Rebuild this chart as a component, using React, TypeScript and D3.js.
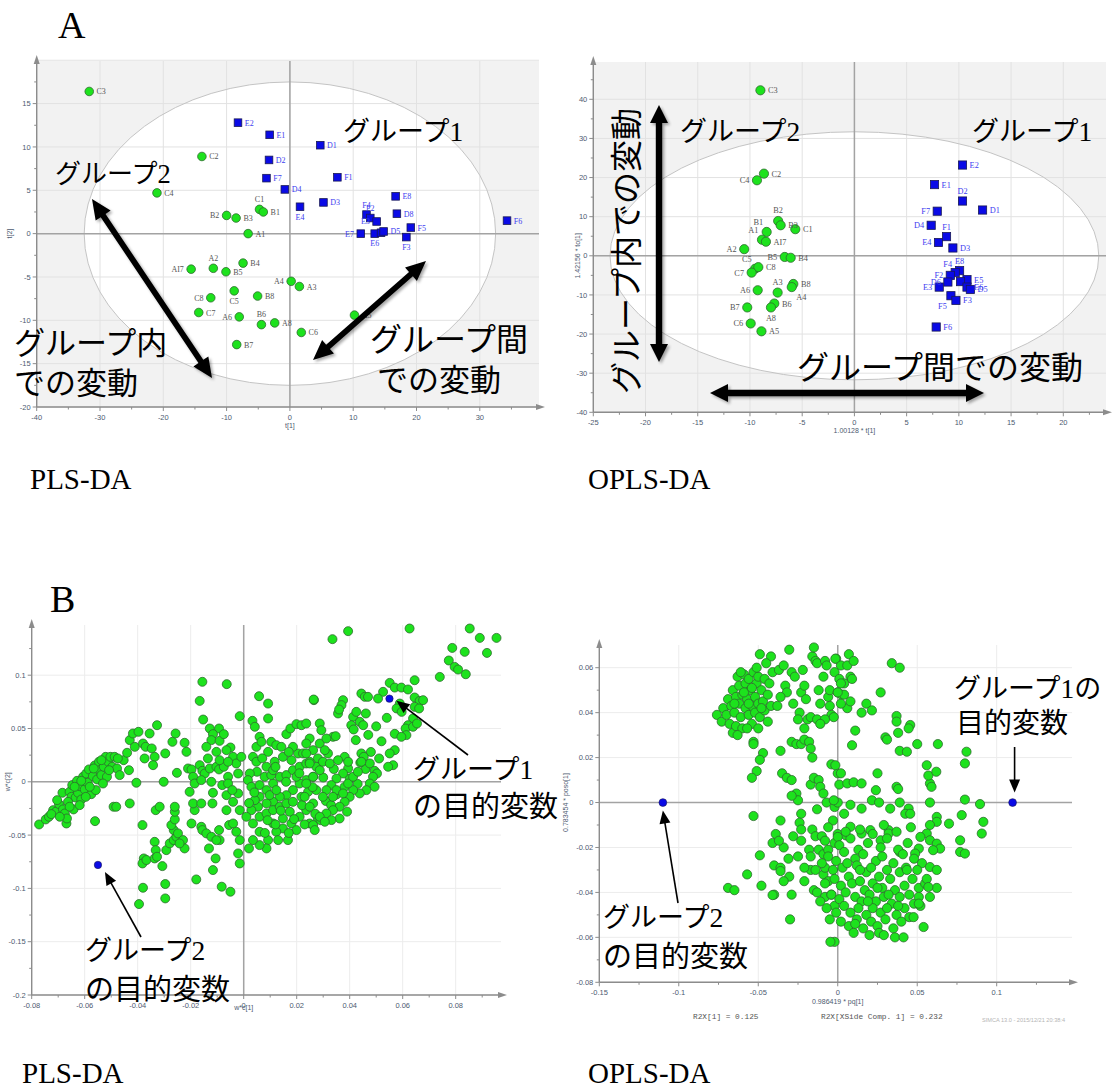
import React from "react";
import * as d3 from "d3";

type Scored = [string, number, number];
type Pt = [number, number];

// ---------- PLS-DA score plot, t[1] vs t[2] ----------
const plsScoresGroup2: Scored[] = [
  ["C3", -31.7, 16.4], ["C2", -13.9, 8.9], ["C4", -21.0, 4.7], ["C1", -4.8, 2.8],
  ["B1", -4.2, 2.5], ["B2", -10.0, 2.1], ["B3", -8.5, 1.8], ["A1", -6.6, 0.0],
  ["AI7", -15.6, -4.1], ["A2", -12.1, -4.0], ["B5", -10.1, -4.4], ["B4", -7.4, -3.4],
  ["A4", 0.2, -5.5], ["A3", 1.5, -6.1], ["C5", -8.8, -6.6], ["B8", -5.1, -7.2],
  ["C8", -12.5, -7.4], ["C7", -14.4, -9.1], ["A6", -8.0, -9.6], ["B6", -4.5, -10.5],
  ["A8", -2.4, -10.3], ["B7", -8.4, -12.8], ["C6", 1.8, -11.4], ["A5", 10.2, -9.4],
];
const plsScoresGroup1: Scored[] = [
  ["E2", -8.2, 12.8], ["E1", -3.2, 11.4], ["D2", -3.3, 8.5], ["F7", -3.7, 6.4],
  ["D4", -0.8, 5.1], ["E4", 1.6, 3.1], ["D1", 4.8, 10.2], ["F1", 7.5, 6.5],
  ["D3", 5.3, 3.6], ["E8", 16.7, 4.3], ["F4", 12.1, 2.2], ["F2", 12.7, 1.8],
  ["E3", 13.7, 1.4], ["D8", 16.9, 2.3], ["F5", 19.1, 0.7], ["E7", 11.2, 0.0],
  ["E6", 13.4, 0.0], ["D6", 14.4, 0.1], ["D5", 14.8, 0.25], ["F3", 18.4, -0.4], ["F6", 34.3, 1.5],
];
const plsLabelSide: Record<string, string> = {
  C3: "r", C2: "r", C4: "r", C1: "t", B1: "r", B2: "l", B3: "r", A1: "r", AI7: "l", A2: "t",
  B5: "r", B4: "r", A4: "l", A3: "r", C5: "b", B8: "r", C8: "l", C7: "r", A6: "l", B6: "t",
  A8: "r", B7: "r", C6: "r", A5: "r",
  E2: "r", E1: "r", D2: "r", F7: "r", D4: "r", E4: "b", D1: "r", F1: "r", D3: "r", E8: "r",
  F4: "t", F2: "t", E3: "l", D8: "r", F5: "r", E7: "l", E6: "b", D6: "n", D5: "r", F3: "b", F6: "r",
};
const plsEllipse = { rx: 32.5, ry: 17.5 };
const plsScoreTicksX = [-40, -30, -20, -10, 0, 10, 20, 30];
const plsScoreTicksY = [15, 10, 5, 0, -5, -10, -15, -20];

// ---------- OPLS-DA score plot, t[1] vs to[1] ----------
const oplsScoresGroup2: Scored[] = [
  ["C3", -9.0, 42.3], ["C2", -8.66, 21.0], ["C4", -9.33, 19.3], ["B2", -7.3, 8.9],
  ["B3", -7.06, 7.8], ["C1", -5.66, 6.8], ["B1", -8.4, 6.1], ["A1", -8.85, 4.1],
  ["AI7", -8.47, 3.6], ["A2", -10.55, 1.7], ["B5", -6.67, -0.3], ["B4", -6.1, -0.5],
  ["C5", -9.5, -3.3], ["C8", -9.2, -2.9], ["C7", -9.84, -4.3], ["A3", -7.35, -9.4],
  ["B8", -5.85, -7.2], ["A4", -6.0, -8.0], ["A6", -9.26, -8.8], ["B6", -7.67, -12.2],
  ["A8", -7.99, -13.2], ["B7", -10.26, -13.2], ["C6", -9.93, -17.3], ["A5", -8.9, -19.3],
];
const oplsScoresGroup1: Scored[] = [
  ["E2", 10.35, 23.2], ["E1", 7.67, 18.2], ["D2", 10.35, 14.0], ["D1", 12.27, 11.7],
  ["F7", 7.93, 11.4], ["D4", 7.35, 7.8], ["F1", 8.82, 4.9], ["E4", 8.05, 3.4],
  ["D3", 9.43, 2.0], ["E8", 10.07, -3.8], ["F4", 9.65, -4.3], ["E5", 10.78, -6.1],
  ["F2", 9.18, -5.0], ["D6", 8.95, -6.7], ["E3", 8.12, -8.0], ["E7", 10.16, -6.6],
  ["E6", 10.78, -8.0], ["D5", 11.1, -8.6], ["F5", 9.24, -10.2], ["F3", 9.72, -11.4],
  ["F6", 7.83, -18.2],
];
const oplsLabelSide: Record<string, string> = {
  C3: "r", C2: "r", C4: "l", B2: "t", B3: "r", C1: "r", B1: "tl", A1: "tl", AI7: "r", A2: "l",
  B5: "l", B4: "r", C5: "tl", C8: "r", C7: "l", A3: "t", B8: "r", A4: "br", A6: "l", B6: "r",
  A8: "b", B7: "l", C6: "l", A5: "r",
  E2: "r", E1: "r", D2: "t", D1: "r", F7: "l", D4: "l", F1: "t", E4: "l", D3: "r", E8: "t",
  F4: "tl", E5: "r", F2: "l", D6: "l", E3: "l", E7: "n", E6: "r", D5: "r", F5: "bl", F3: "r", F6: "r",
};
const oplsEllipse = { rx: 23.4, ry: 31.7 };
const oplsScoreTicksX = [-25, -20, -15, -10, -5, 0, 5, 10, 15, 20];
const oplsScoreTicksY = [40, 30, 20, 10, 0, -10, -20, -30, -40];

// ---------- PLS-DA loading plot, w*c[1] vs w*c[2] ----------
const plsLoadings: Pt[] = [
  [-0.0772, -0.04], [-0.0747, -0.0353], [-0.0735, -0.0328], [-0.0719, -0.0266], [-0.0709, -0.0281],
  [-0.0697, -0.0209], [-0.0684, -0.0103], [-0.0682, -0.0259], [-0.0675, -0.0297], [-0.0669, -0.0391],
  [-0.0667, -0.0344], [-0.0657, -0.0094], [-0.065, -0.0141], [-0.0647, -0.0031], [-0.0642, -0.0259],
  [-0.0634, -0.0147], [-0.0629, 0.0009], [-0.0625, -0.0103], [-0.0619, -0.0041], [-0.0613, -0.0166],
  [-0.0606, 0.0047], [-0.06, -0.0072], [-0.0594, 0.0078], [-0.0589, -0.0009], [-0.0584, 0.0116],
  [-0.0575, -0.0116], [-0.0569, 0.0053], [-0.0562, 0.0153], [-0.0558, -0.0078], [-0.0553, 0.0022],
  [-0.0546, 0.0188], [-0.0543, 0.0109], [-0.0537, 0.0063], [-0.0561, -0.0369], [-0.0528, 0.0141],
  [-0.0521, 0.0234], [-0.0516, 0.0047], [-0.0511, 0.0188], [-0.0503, 0.0234], [-0.0496, 0.0141],
  [-0.0487, 0.0234], [-0.0491, -0.0234], [-0.0481, -0.0234], [-0.0478, 0.0125], [-0.0468, 0.0063],
  [-0.0453, 0.0203], [-0.044, 0.0272], [-0.043, 0.0391], [-0.0433, 0.0109], [-0.0411, 0.0328],
  [-0.0418, 0.0453], [-0.0397, 0.0469], [-0.0405, -0.0009], [-0.038, 0.0359], [-0.037, 0.0328],
  [-0.0374, 0.0219], [-0.0355, 0.0453], [-0.0347, 0.0313], [-0.0336, 0.0234], [-0.0342, 0.0156],
  [-0.0327, 0.0531], [-0.0332, -0.0266], [-0.0317, -0.0234], [-0.0302, 0.0], [-0.0296, 0.0266],
  [-0.0269, 0.0375], [-0.0257, 0.0453], [-0.0252, 0.0084], [-0.043, -0.0203],
  [-0.0663, -0.0188], [-0.0638, -0.0047], [-0.0613, 0.0009], [-0.0581, -0.0047], [-0.0596, -0.0141],
  [-0.0531, -0.0016], [-0.0566, 0.0125], [-0.0508, 0.0109], [-0.0704, -0.0172], [-0.0726, -0.0303],
  [-0.0694, -0.0328], [-0.0657, -0.0234], [-0.0619, -0.0219], [-0.0537, 0.0203], [-0.0475, 0.0219],
  // middle, lower part
  [-0.0382, -0.0406], [-0.0377, -0.0719], [-0.0382, -0.0766], [-0.0367, -0.0734], [-0.038, -0.0994],
  [-0.0395, -0.1147], [-0.0296, -0.0959], [-0.0296, -0.1094], [-0.0307, -0.0791], [-0.0336, -0.0563],
  [-0.0332, -0.0641], [-0.0336, -0.0719], [-0.0327, -0.0703], [-0.0292, -0.0641], [-0.0279, -0.0578],
  [-0.0264, -0.0547], [-0.0254, -0.0516], [-0.0264, -0.0453], [-0.0273, -0.0406], [-0.026, -0.0353],
  [-0.0248, -0.0484], [-0.0229, -0.0547], [-0.0223, -0.0625], [-0.0242, -0.0578], [-0.026, -0.0281],
  [-0.026, -0.0234], [-0.0179, -0.0916], [-0.0116, -0.0828], [-0.0106, -0.0719], [-0.0131, -0.0625],
  [-0.0083, -0.0984], [-0.005, -0.1031], [-0.0021, -0.0672], [-0.0015, -0.0766], [-0.0197, -0.0391],
  [-0.0185, -0.0266], [-0.0191, -0.0203], [-0.016, -0.0422], [-0.0156, -0.0453], [-0.0141, -0.0484],
  [-0.0122, -0.0516], [-0.0093, -0.0453], [-0.0091, -0.0547], [-0.0103, -0.0547], [-0.0055, -0.0406],
  [-0.004, -0.0391], [-0.0028, -0.0469], [-0.0015, -0.0547], [-0.0065, -0.0266], [-0.0118, -0.0203],
  [-0.016, -0.0203],
  // middle, upper part
  [-0.0156, 0.0938], [-0.0064, 0.0916], [-0.0166, 0.0759], [-0.0153, 0.0584], [-0.0128, 0.05],
  [-0.0093, 0.05], [-0.0116, 0.0447], [-0.0122, 0.0391], [-0.0091, 0.0384], [-0.0075, 0.0447],
  [-0.0015, 0.0616], [-0.005, 0.0322], [-0.0065, 0.0297], [-0.004, 0.0234], [-0.0028, 0.0172],
  [-0.0021, 0.0078], [-0.0009, 0.0234], [-0.0216, 0.0281], [-0.0223, 0.0366], [-0.021, 0.0125],
  [-0.0197, 0.0116], [-0.0191, 0.0047], [-0.0185, -0.0016], [-0.0204, -0.0094], [-0.0166, 0.0156],
  [-0.0156, 0.0103], [-0.0147, 0.0078], [-0.016, 0.0016], [-0.0128, 0.0125], [-0.0122, 0.0],
  [-0.0116, -0.0103], [-0.0103, 0.0141], [-0.0093, 0.0116], [-0.0075, 0.0141], [-0.0059, 0.0047],
  [-0.0081, -0.0031], [-0.0065, -0.0125], [-0.004, -0.0188], [-0.0021, -0.0109], [-0.0015, -0.0266],
  [-0.0059, -0.0016], [-0.0043, -0.0078], [-0.0135, 0.0219], [-0.0103, 0.0281], [-0.0141, 0.0328],
  [-0.0091, 0.0203], [-0.0059, 0.0188],
  // central dense band
  [0.0058, 0.0803], [0.0092, 0.0734], [0.0092, 0.0594], [0.0033, 0.0572], [0.0042, 0.0516],
  [0.0265, 0.0766], [0.006, 0.0422], [0.0048, 0.0328], [0.0035, 0.0234], [0.0067, 0.0375],
  [0.0104, 0.0375], [0.0123, 0.0344], [0.0142, 0.0328], [0.0161, 0.0447], [0.0176, 0.05],
  [0.0199, 0.0541], [0.0218, 0.0531], [0.0249, 0.0406], [0.0236, 0.0359], [0.0262, 0.0297],
  [0.028, 0.0219], [0.0205, 0.0266], [0.018, 0.0203], [0.0148, 0.0234], [0.0117, 0.0188],
  [0.0086, 0.0141], [0.005, 0.0094], [0.0023, 0.0078], [0.0016, 0.0016], [0.0029, -0.0047],
  [0.006, -0.0031], [0.0086, -0.0078], [0.0111, -0.0016], [0.0136, 0.0047], [0.0161, 0.0063],
  [0.0186, 0.0109], [0.0211, 0.0141], [0.0236, 0.0172], [0.0274, 0.0141], [0.0262, 0.0047],
  [0.0236, 0.0016], [0.0211, -0.0016], [0.0186, -0.0078], [0.0161, -0.0125], [0.0136, -0.0141],
  [0.0111, -0.0188], [0.0086, -0.0203], [0.0054, -0.0234], [0.0029, -0.0266], [0.001, -0.0328],
  [0.0035, -0.0391], [0.006, -0.0328], [0.0086, -0.0297], [0.0111, -0.0266], [0.0136, -0.0234],
  [0.0161, -0.0203], [0.0186, -0.0188], [0.0218, -0.0141], [0.0243, -0.0094], [0.0274, -0.0078],
  [0.0262, -0.0203], [0.0236, -0.0266], [0.0211, -0.0328], [0.018, -0.0391], [0.0148, -0.0438],
  [0.0123, -0.0469], [0.0092, -0.0547], [0.0086, -0.0625], [0.006, -0.0594], [0.0035, -0.0547],
  [0.002, -0.0625], [0.006, -0.0469], [0.0111, -0.0391], [0.0148, -0.0344], [0.0174, -0.0281],
  [0.0199, -0.0453], [0.0167, -0.0547], [0.013, -0.0547], [0.0249, -0.0391], [0.028, -0.0344],
  [0.006, -0.0141], [0.0042, -0.0172], [0.0098, -0.0125], [0.0123, -0.0078], [0.0079, 0.0047],
  [0.0104, 0.0063], [0.0048, 0.0188], [0.0092, 0.0281], [0.0186, 0.0328], [0.0224, 0.0266],
  [0.0249, 0.0188], [0.0199, 0.0047], [0.0111, 0.0109],
  [0.004, -0.01], [0.009, -0.036], [0.014, -0.027], [0.019, -0.035], [0.022, -0.022],
  [0.027, -0.03], [0.031, -0.018], [0.035, -0.012], [0.039, -0.028], [0.043, -0.002],
  [0.016, 0.0], [0.021, 0.008], [0.026, -0.005], [0.012, 0.014], [0.007, 0.022],
  [0.017, 0.028], [0.03, 0.004], [0.034, 0.012], [0.04, 0.003], [0.046, 0.012],
  [0.002, -0.02], [0.008, -0.048], [0.012, -0.04], [0.017, -0.048], [0.023, -0.04],
  [0.029, -0.036], [0.033, -0.022], [0.038, -0.005], [0.044, 0.018], [0.048, 0.028],
  [0.052, 0.038], [0.057, 0.045], [0.054, 0.06], [0.05, 0.052], [0.047, 0.044],
  // right arm and top outliers
  [0.0335, 0.1338], [0.0394, 0.1413], [0.0626, 0.1438], [0.0853, 0.1438], [0.0891, 0.135],
  [0.0954, 0.135], [0.0787, 0.1256], [0.0834, 0.1219], [0.0918, 0.1209], [0.0774, 0.1138],
  [0.0796, 0.1078], [0.0809, 0.1053], [0.0838, 0.1009], [0.074, 0.0984],
  [0.0551, 0.0928], [0.057, 0.0884], [0.0595, 0.0884], [0.062, 0.0866], [0.0645, 0.0953],
  [0.0526, 0.0844], [0.0507, 0.0781], [0.0589, 0.0734], [0.0577, 0.0688], [0.0596, 0.0656],
  [0.0645, 0.0791], [0.0664, 0.0759], [0.0677, 0.0766], [0.0645, 0.0703], [0.0662, 0.0688],
  [0.0639, 0.0594], [0.062, 0.0531], [0.0611, 0.05], [0.0639, 0.0516], [0.0654, 0.0547],
  [0.0614, 0.0438], [0.0595, 0.0422], [0.057, 0.0297], [0.0551, 0.0266], [0.0564, 0.0156],
  [0.0545, 0.0141], [0.0511, 0.0219], [0.0444, 0.0828], [0.0457, 0.0797], [0.0469, 0.0797],
  [0.0375, 0.0766], [0.0369, 0.0719], [0.0356, 0.0641], [0.036, 0.0678], [0.0264, 0.0772],
  [0.0413, 0.0609], [0.0406, 0.0531], [0.0415, 0.0491], [0.0438, 0.0563], [0.0451, 0.0531],
  [0.0461, 0.0641], [0.0425, 0.0656], [0.0423, 0.0391], [0.0444, 0.0266], [0.0453, 0.0234],
  [0.0476, 0.0172], [0.0494, 0.0103], [0.0503, 0.0078], [0.0488, 0.0047], [0.0476, -0.0016],
  [0.0494, -0.0047], [0.0463, -0.0078], [0.0438, -0.0109], [0.0413, -0.0078], [0.04, -0.0141],
  [0.0381, -0.0188], [0.0362, -0.0234], [0.0337, -0.0266], [0.0312, -0.0297], [0.0287, -0.0328],
  [0.0262, -0.0406], [0.0268, -0.0453], [0.0362, -0.0344], [0.0331, -0.0359], [0.0306, -0.0375],
  [0.0394, -0.0016], [0.0413, 0.0047], [0.0431, 0.0094], [0.0394, 0.0125], [0.0375, 0.0078],
  [0.035, 0.0031], [0.0331, -0.0031], [0.0312, -0.0078], [0.0299, -0.0141], [0.035, -0.0078],
  [0.0337, -0.0141], [0.0375, -0.0109], [0.0287, 0.0109], [0.0262, 0.0047], [0.0299, 0.0188],
  [0.0325, 0.0172], [0.0318, 0.0266], [0.0287, 0.0359], [0.0306, 0.0297], [0.0337, 0.0422],
  [0.0347, 0.0428], [0.0312, 0.0406], [0.0287, 0.0547], [0.0293, 0.0484], [0.0236, 0.0547],
  [0.0381, 0.0234], [0.0394, 0.0188], [0.0356, 0.0203], [0.0444, 0.0188], [0.0236, 0.0266],
  [0.0249, 0.0172], [0.0236, -0.0016], [0.0249, -0.0234], [0.023, -0.0141],
];
const plsTargets: Pt[] = [[0.055, 0.078], [-0.055, -0.078]];
const plsLoadTicksX = [-0.08, -0.06, -0.04, -0.02, 0, 0.02, 0.04, 0.06, 0.08];
const plsLoadTicksY = [0.1, 0.05, 0, -0.05, -0.1, -0.15, -0.2];

// ---------- OPLS-DA loading plot, pq[1] vs poso[1] ----------
const oplsLoadings: Pt[] = [
  // upper-left cluster
  [-0.076, 0.039], [-0.073, 0.036], [-0.072, 0.042], [-0.07, 0.039], [-0.069, 0.046], [-0.068, 0.035],
  [-0.067, 0.043], [-0.066, 0.031], [-0.066, 0.05], [-0.065, 0.04], [-0.064, 0.047], [-0.064, 0.034],
  [-0.063, 0.056], [-0.062, 0.044], [-0.062, 0.052], [-0.061, 0.038], [-0.06, 0.048], [-0.06, 0.033],
  [-0.059, 0.057], [-0.058, 0.042], [-0.058, 0.053], [-0.057, 0.046], [-0.056, 0.039], [-0.056, 0.055],
  [-0.055, 0.05], [-0.054, 0.043], [-0.054, 0.035], [-0.053, 0.058], [-0.052, 0.047], [-0.052, 0.04],
  [-0.051, 0.053], [-0.05, 0.044], [-0.05, 0.056], [-0.049, 0.038], [-0.048, 0.05], [-0.049, 0.066],
  [-0.047, 0.045], [-0.046, 0.055], [-0.046, 0.041], [-0.042, 0.065], [-0.044, 0.048], [-0.044, 0.036],
  [-0.043, 0.053], [-0.042, 0.043], [-0.041, 0.058], [-0.061, 0.058], [-0.045, 0.062], [-0.057, 0.033],
  [-0.063, 0.03], [-0.05, 0.033], [-0.059, 0.049], [-0.054, 0.051], [-0.048, 0.042], [-0.065, 0.044],
  [-0.056, 0.044], [-0.051, 0.06],
  // upper-middle cluster
  [-0.0305, 0.068], [-0.037, 0.059], [-0.034, 0.061], [-0.029, 0.058], [-0.033, 0.052], [-0.032, 0.049],
  [-0.036, 0.047], [-0.038, 0.043], [-0.028, 0.044], [-0.027, 0.056], [-0.023, 0.049], [-0.022, 0.059],
  [-0.021, 0.052], [-0.02, 0.046], [-0.024, 0.04], [-0.025, 0.037], [-0.019, 0.037], [-0.017, 0.038],
  [-0.016, 0.065], [-0.015, 0.069], [-0.014, 0.063], [-0.013, 0.062], [-0.012, 0.05], [-0.011, 0.044],
  [-0.009, 0.056], [-0.008, 0.063], [-0.007, 0.061], [-0.006, 0.047], [-0.005, 0.05], [-0.005, 0.043],
  [-0.004, 0.039], [-0.002, 0.058], [-0.001, 0.064], [0.0, 0.049], [0.001, 0.055], [0.002, 0.061],
  [0.0025, 0.048], [0.004, 0.053], [0.006, 0.042], [0.007, 0.066], [0.008, 0.056], [-0.013, 0.037],
  [-0.008, 0.037], [-0.021, 0.033], [-0.011, 0.035], [-0.0015, 0.064], [0.006, 0.061], [0.01, 0.063],
  [0.002, 0.053], [0.009, 0.055], [0.004, 0.048], [0.0, 0.049], [0.002, 0.044], [0.008, 0.045],
  [0.018, 0.044], [0.015, 0.04], [0.0215, 0.041], [0.027, 0.049], [-0.0025, 0.038], [0.034, 0.062],
  [0.039, 0.06],
  // scattered middle band
  [-0.053, 0.027], [-0.053, 0.026], [-0.047, 0.022], [-0.049, 0.019], [-0.051, 0.014], [-0.054, 0.011],
  [-0.036, 0.023], [-0.029, 0.027], [-0.026, 0.026], [-0.023, 0.026], [-0.021, 0.028], [-0.018, 0.027],
  [-0.017, 0.024], [-0.016, 0.02], [-0.004, 0.017], [-0.035, 0.013], [-0.032, 0.011], [-0.029, 0.01],
  [-0.026, 0.004], [-0.025, 0.001], [-0.017, 0.008], [-0.015, 0.011], [-0.012, 0.01], [-0.011, 0.007],
  [-0.009, 0.004], [-0.013, -0.003], [-0.007, 0.0], [-0.002, -0.002], [0.0, 0.013], [0.001, 0.008],
  [0.0, 0.0], [-0.029, 0.003], [-0.023, -0.005], [-0.024, -0.009], [-0.023, -0.012], [-0.053, -0.006],
  [-0.036, -0.008], [-0.039, -0.014], [-0.041, -0.018], [-0.034, -0.02], [-0.028, -0.015], [-0.023, -0.017],
  [-0.018, -0.021], [-0.016, -0.012], [-0.014, -0.015], [-0.01, -0.015], [-0.008, -0.017], [-0.012, -0.021],
  [-0.009, -0.023], [-0.006, -0.021], [-0.002, -0.018], [0.0, -0.014], [-0.003, -0.008], [-0.006, -0.011],
  [0.004, -0.005], [0.002, 0.013], [0.006, 0.0085], [0.01, 0.009], [0.015, 0.0085], [0.025, 0.013],
  [0.037, 0.007], [0.038, 0.006], [0.058, 0.0085], [0.059, 0.007], [0.024, 0.0055], [0.0215, 0.001],
  [0.026, 0.0], [0.033, -0.0027], [0.039, 0.0], [0.058, 0.0], [0.08, 0.0013], [0.0895, -0.0007],
  [0.015, -0.0027], [0.008, -0.001], [-0.0025, 0.001], [-0.0015, 0.0166], [0.056, 0.0166], [0.08, 0.0174],
  [0.081, 0.0226], [0.057, 0.012], [0.062, 0.0137], [0.009, 0.0255], [0.05, 0.026], [0.063, 0.026],
  [0.039, 0.023], [0.0435, 0.0226], [0.03, 0.029], [0.031, 0.028], [0.038, 0.031], [0.037, 0.0385],
  [0.037, 0.036], [0.0456, 0.0345], [0.0446, 0.033], [0.011, 0.032], [0.0446, -0.0027], [0.0425, -0.005],
  [0.0456, -0.005], [0.0623, -0.0064], [0.0623, -0.0086], [0.07, -0.0094], [0.0916, -0.0086], [0.0906, -0.0138],
  [0.078, -0.0056], [0.077, -0.0168], [0.077, -0.022], [0.08, -0.0227], [0.058, -0.01], [0.056, -0.0138],
  [0.052, -0.0153], [0.058, -0.0168], [0.0623, -0.0183], [0.0644, -0.0205], [0.06, -0.0212], [0.051, -0.0205],
  [0.0487, -0.0227], [0.039, -0.022], [0.032, -0.0123], [0.032, -0.0138], [0.0205, -0.0123], [0.015, -0.0138],
  [0.008, -0.0108], [0.005, -0.0146], [0.0, -0.0153], [0.027, -0.0168],
  // lower-left scatter
  [-0.049, -0.0235], [-0.057, -0.032], [-0.048, -0.037], [-0.04, -0.028], [-0.036, -0.029], [-0.036, -0.0305],
  [-0.0305, -0.033], [-0.034, -0.035], [-0.029, -0.041], [-0.03, -0.052], [-0.04, -0.041], [-0.041, -0.0412],
  [-0.069, -0.038], [-0.065, -0.039], [-0.021, -0.035], [-0.017, -0.03], [-0.015, -0.039], [-0.013, -0.04],
  [-0.009, -0.032], [-0.008, -0.042], [-0.004, -0.041], [-0.005, -0.052], [-0.002, -0.046], [-0.002, -0.062],
  [-0.037, -0.017], [-0.031, -0.025], [-0.025, -0.024], [-0.021, -0.029], [-0.017, -0.024], [-0.008, -0.029],
  [-0.014, -0.03], [-0.006, -0.035],
  // lower dense cluster
  [0.001, -0.019], [0.008, -0.016], [0.013, -0.021], [0.019, -0.018], [0.027, -0.02], [0.031, -0.016],
  [0.038, -0.021], [0.044, -0.018], [-0.006, -0.024], [-0.001, -0.026], [0.004, -0.022], [0.011, -0.025],
  [0.016, -0.023], [0.024, -0.026], [0.028, -0.024], [0.035, -0.027], [0.041, -0.023], [0.048, -0.025],
  [-0.003, -0.03], [0.003, -0.029], [0.007, -0.033], [0.012, -0.028], [0.018, -0.031], [0.021, -0.029],
  [0.026, -0.033], [0.031, -0.03], [0.039, -0.031], [0.043, -0.029], [0.053, -0.027], [-0.008, -0.036],
  [-0.002, -0.034], [0.002, -0.037], [0.009, -0.036], [0.014, -0.035], [0.017, -0.039], [0.022, -0.036],
  [0.028, -0.038], [0.033, -0.034], [0.036, -0.039], [0.042, -0.037], [0.047, -0.034], [0.051, -0.038],
  [-0.004, -0.041], [0.001, -0.043], [0.005, -0.04], [0.011, -0.042], [0.015, -0.044], [0.02, -0.041],
  [0.024, -0.044], [0.029, -0.042], [0.034, -0.045], [0.039, -0.042], [0.045, -0.041], [0.048, -0.045],
  [-0.007, -0.047], [-0.001, -0.049], [0.004, -0.046], [0.008, -0.049], [0.013, -0.047], [0.018, -0.05],
  [0.022, -0.047], [0.027, -0.049], [0.031, -0.047], [0.037, -0.05], [0.042, -0.047], [0.052, -0.046],
  [0.002, -0.053], [0.007, -0.055], [0.012, -0.052], [0.016, -0.056], [0.021, -0.053], [0.025, -0.055],
  [0.03, -0.052], [0.035, -0.056], [0.04, -0.053], [0.045, -0.051], [0.01, -0.058], [0.02, -0.059],
  [0.026, -0.058], [0.036, -0.06], [0.005, -0.013], [0.014, -0.012], [0.022, -0.014], [0.029, -0.01],
  [0.037, -0.013], [0.046, -0.011], [-0.01, -0.027], [-0.011, -0.044], [0.055, -0.036], [0.058, -0.042],
  [0.006, -0.027], [0.019, -0.044], [0.032, -0.041], [0.014, -0.03], [0.025, -0.038], [0.038, -0.046],
  // right side of the lower cluster
  [0.058, -0.0287], [0.0623, -0.03], [0.0623, -0.038], [0.056, -0.034], [0.057, -0.0376], [0.05, -0.03],
  [0.0435, -0.03], [0.051, -0.042], [0.051, -0.045], [0.0477, -0.051], [0.054, -0.0554], [0.0414, -0.06],
  [0.029, -0.059], [0.011, -0.054], [-0.0046, -0.062],
];
const oplsTargets: Pt[] = [[0.11, 0], [-0.11, 0]];
const oplsLoadTicksX = [-0.15, -0.1, -0.05, 0, 0.05, 0.1];
const oplsLoadTicksY = [0.06, 0.04, 0.02, 0, -0.02, -0.04, -0.06, -0.08];

// ---------- drawing constants ----------
const JP = "'Noto Sans CJK JP', 'Noto Sans', sans-serif";
const SERIF = "'Liberation Serif', 'DejaVu Serif', serif";
const SANS = "'Liberation Sans', Arial, sans-serif";
const MONO = "'Liberation Mono', 'DejaVu Sans Mono', monospace";
const GREEN = "#1de21d";
const GREEN_EDGE = "#2f6b2f";
const BLUE = "#0a0ae6";
const BLUE_EDGE = "#1a1a55";
const TICK_TEXT = "#4d5a70";
const AXIS = "#8c8c8c";

type Lin = d3.ScaleLinear<number, number>;
interface Frame { l: number; r: number; t: number; b: number }

const fmt = (v: number) => String(+v.toFixed(2));

function Grid({ x, y, f, ticksX, ticksY, color }: {
  x: Lin; y: Lin; f: Frame; ticksX: number[]; ticksY: number[]; color: string;
}) {
  return (
    <g>
      {ticksX.map((t) => (
        <line key={"gx" + t} x1={x(t)} x2={x(t)} y1={f.t} y2={f.b} stroke={color} strokeWidth={1} />
      ))}
      {ticksY.map((t) => (
        <line key={"gy" + t} x1={f.l} x2={f.r} y1={y(t)} y2={y(t)} stroke={color} strokeWidth={1} />
      ))}
    </g>
  );
}

function AxisFrame({ x, y, f, ticksX, ticksY, minorX, minorY }: {
  x: Lin; y: Lin; f: Frame; ticksX: number[]; ticksY: number[]; minorX: number; minorY: number;
}) {
  const minX = ticksX.map((t) => t + minorX).filter((v) => x(v) < f.r - 6);
  const minY = ticksY.map((t) => t + minorY).filter((v) => y(v) > f.t + 6 && y(v) < f.b);
  return (
    <g>
      <line x1={f.l} x2={f.l} y1={f.b} y2={f.t} stroke={AXIS} strokeWidth={1.4} />
      <line x1={f.l} x2={f.r} y1={f.b} y2={f.b} stroke={AXIS} strokeWidth={1.4} />
      <path d={`M${f.l},${f.t - 6} L${f.l - 3},${f.t + 3} L${f.l + 3},${f.t + 3} Z`} fill={AXIS} />
      <path d={`M${f.r + 6},${f.b} L${f.r - 3},${f.b - 3} L${f.r - 3},${f.b + 3} Z`} fill={AXIS} />
      {ticksX.map((t) => (
        <g key={"tx" + t}>
          <line x1={x(t)} x2={x(t)} y1={f.b} y2={f.b + 4} stroke={AXIS} />
          <text x={x(t)} y={f.b + 13} fontSize={7.5} fontFamily={SANS} fill={TICK_TEXT} textAnchor="middle">{fmt(t)}</text>
        </g>
      ))}
      {minX.map((t) => (
        <line key={"mx" + t} x1={x(t)} x2={x(t)} y1={f.b} y2={f.b + 2.5} stroke={AXIS} />
      ))}
      {ticksY.map((t) => (
        <g key={"ty" + t}>
          <line x1={f.l - 4} x2={f.l} y1={y(t)} y2={y(t)} stroke={AXIS} />
          <text x={f.l - 6} y={y(t) + 2.6} fontSize={7.5} fontFamily={SANS} fill={TICK_TEXT} textAnchor="end">{fmt(t)}</text>
        </g>
      ))}
      {minY.map((t) => (
        <line key={"my" + t} x1={f.l - 2.5} x2={f.l} y1={y(t)} y2={y(t)} stroke={AXIS} />
      ))}
    </g>
  );
}

function ZeroLines({ x, y, f }: { x: Lin; y: Lin; f: Frame }) {
  return (
    <g>
      <line x1={x(0)} x2={x(0)} y1={f.t} y2={f.b} stroke="#a3a3a3" strokeWidth={1.5} />
      <line x1={f.l} x2={f.r} y1={y(0)} y2={y(0)} stroke="#a3a3a3" strokeWidth={1.5} />
    </g>
  );
}

function labelPos(side: string, cx: number, cy: number, r: number) {
  switch (side) {
    case "l": return { x: cx - r - 3, y: cy + 3, a: "end" };
    case "t": return { x: cx, y: cy - r - 3, a: "middle" };
    case "b": return { x: cx, y: cy + r + 9, a: "middle" };
    case "tl": return { x: cx - r + 1, y: cy - r - 2, a: "end" };
    case "br": return { x: cx + r, y: cy + r + 8, a: "start" };
    case "bl": return { x: cx - r, y: cy + r + 9, a: "end" };
    default: return { x: cx + r + 3, y: cy + 3, a: "start" };
  }
}

function ScoreMarks({ x, y, g2, g1, sides, r, s, fs }: {
  x: Lin; y: Lin; g2: Scored[]; g1: Scored[]; sides: Record<string, string>; r: number; s: number; fs: number;
}) {
  return (
    <g>
      {g2.map(([n, a, b]) => (
        <circle key={"c" + n} cx={x(a)} cy={y(b)} r={r} fill={GREEN} stroke={GREEN_EDGE} strokeWidth={0.8} />
      ))}
      {g1.map(([n, a, b]) => (
        <rect key={"s" + n} x={x(a) - s / 2} y={y(b) - s / 2} width={s} height={s} fill={BLUE} stroke={BLUE_EDGE} strokeWidth={0.8} />
      ))}
      {g2.map(([n, a, b]) => {
        const side = sides[n] || "r";
        if (side === "n") return null;
        const p = labelPos(side, x(a), y(b), r);
        return <text key={"lc" + n} x={p.x} y={p.y} textAnchor={p.a as any} fontSize={fs} fontFamily={SERIF} fill="#555">{n}</text>;
      })}
      {g1.map(([n, a, b]) => {
        const side = sides[n] || "r";
        if (side === "n") return null;
        const p = labelPos(side, x(a), y(b), s / 2);
        return <text key={"ls" + n} x={p.x} y={p.y} textAnchor={p.a as any} fontSize={fs} fontFamily={SERIF} fill="#3d3df0">{n}</text>;
      })}
    </g>
  );
}

function BoldArrow({ x1, y1, x2, y2, hl = 20, hw = 9, sw = 2.9 }: {
  x1: number; y1: number; x2: number; y2: number; hl?: number; hw?: number; sw?: number;
}) {
  const L = Math.hypot(x2 - x1, y2 - y1);
  const ux = (x2 - x1) / L, uy = (y2 - y1) / L;
  const nx = -uy, ny = ux;
  const b1 = [x1 + ux * hl, y1 + uy * hl];
  const b2 = [x2 - ux * hl, y2 - uy * hl];
  const P = (p: number[], k: number) => `${p[0] + nx * k},${p[1] + ny * k}`;
  const pts = [
    `${x1},${y1}`, P(b1, hw), P(b1, sw), P(b2, sw), P(b2, hw), `${x2},${y2}`,
    P(b2, -hw), P(b2, -sw), P(b1, -sw), P(b1, -hw),
  ].join(" ");
  return <polygon points={pts} fill="#000" filter="url(#soft)" />;
}

function ThinArrow({ x1, y1, x2, y2 }: { x1: number; y1: number; x2: number; y2: number }) {
  const L = Math.hypot(x2 - x1, y2 - y1);
  const ux = (x2 - x1) / L, uy = (y2 - y1) / L;
  const nx = -uy, ny = ux;
  const hl = 13, hw = 5.5;
  const bx = x2 - ux * hl, by = y2 - uy * hl;
  return (
    <g>
      <line x1={x1} y1={y1} x2={bx + ux * 2} y2={by + uy * 2} stroke="#000" strokeWidth={1.6} />
      <polygon points={`${x2},${y2} ${bx + nx * hw},${by + ny * hw} ${bx - nx * hw},${by - ny * hw}`} fill="#000" />
    </g>
  );
}

function JText({ x, y, size, parts, rotate }: { x: number; y: number; size: number; parts: string[]; rotate?: boolean }) {
  return (
    <text x={x} y={y} fontSize={size} fontFamily={JP} fill="#000"
      transform={rotate ? `rotate(-90 ${x} ${y})` : undefined}>
      {parts.map((p, i) => (
        /^[0-9]+$/.test(p)
          ? <tspan key={i} fontFamily={SERIF} fontSize={size * 1.02}>{p}</tspan>
          : <tspan key={i}>{p}</tspan>
      ))}
    </text>
  );
}

export default function App() {
  // PLS-DA scores
  const x1 = d3.scaleLinear().domain([-40, 30]).range([36.7, 479.8]);
  const y1 = d3.scaleLinear().domain([-20, 15]).range([407, 103.6]);
  const f1: Frame = { l: 36.7, r: 539, t: 61, b: 407 };
  // OPLS-DA scores
  const x2 = d3.scaleLinear().domain([-25, 20]).range([593.3, 1063.3]);
  const y2 = d3.scaleLinear().domain([-40, 40]).range([412.3, 99.3]);
  const f2: Frame = { l: 593.3, r: 1106, t: 62, b: 412.3 };
  // PLS-DA loadings
  const x3 = d3.scaleLinear().domain([-0.08, 0.08]).range([31.7, 455.7]);
  const y3 = d3.scaleLinear().domain([-0.2, 0.1]).range([995, 675.2]);
  const f3: Frame = { l: 31.7, r: 501, t: 625, b: 995 };
  // OPLS-DA loadings
  const x4 = d3.scaleLinear().domain([-0.15, 0.1]).range([599.3, 996.7]);
  const y4 = d3.scaleLinear().domain([-0.08, 0.06]).range([982.3, 667.7]);
  const f4: Frame = { l: 599.3, r: 1072, t: 645, b: 982.3 };

  const ell = (x: Lin, y: Lin, e: { rx: number; ry: number }) => ({
    cx: x(0), cy: y(0), rx: x(e.rx) - x(0), ry: y(0) - y(e.ry),
  });
  const e1 = ell(x1, y1, plsEllipse);
  const e2 = ell(x2, y2, oplsEllipse);

  const t3 = plsTargets.map(([a, b]) => [x3(a), y3(b)]);
  const t4 = oplsTargets.map(([a, b]) => [x4(a), y4(b)]);

  return (
    <svg width={1116} height={1088} viewBox="0 0 1116 1088"
      style={{ position: "absolute", left: 0, top: 0, background: "#fff" }}>
      <defs>
        <filter id="soft" x="-20%" y="-20%" width="140%" height="140%">
          <feGaussianBlur in="SourceAlpha" stdDeviation="1.6" />
          <feOffset dx="1.5" dy="1.5" result="o" />
          <feComponentTransfer><feFuncA type="linear" slope="0.35" /></feComponentTransfer>
          <feMerge><feMergeNode /><feMergeNode in="SourceGraphic" /></feMerge>
        </filter>
        <clipPath id="c1"><rect x={f1.l} y={f1.t} width={f1.r - f1.l} height={f1.b - f1.t} /></clipPath>
        <clipPath id="c2"><rect x={f2.l} y={f2.t} width={f2.r - f2.l} height={f2.b - f2.t} /></clipPath>
      </defs>

      {/* ---------- A: PLS-DA scores ---------- */}
      <g>
        <rect x={f1.l} y={f1.t} width={f1.r - f1.l} height={f1.b - f1.t} fill="#f2f2f2" />
        <ellipse {...e1} fill="#fff" clipPath="url(#c1)" />
        <Grid x={x1} y={y1} f={f1} ticksX={plsScoreTicksX} ticksY={[20, ...plsScoreTicksY]} color="#e2e2e2" />
        <ellipse {...e1} fill="none" stroke="#c4c4c4" strokeWidth={1} />
        <ZeroLines x={x1} y={y1} f={f1} />
        <AxisFrame x={x1} y={y1} f={f1} ticksX={plsScoreTicksX} ticksY={plsScoreTicksY} minorX={5} minorY={2.5} />
        <text x={x1(0)} y={428} fontSize={7} fontFamily={SANS} fill={TICK_TEXT} textAnchor="middle">t[1]</text>
        <text x={12} y={y1(0)} fontSize={7} fontFamily={SANS} fill={TICK_TEXT} textAnchor="middle" transform={`rotate(-90 12 ${y1(0)})`}>t[2]</text>
        <ScoreMarks x={x1} y={y1} g2={plsScoresGroup2} g1={plsScoresGroup1} sides={plsLabelSide} r={4.3} s={7.6} fs={8} />
      </g>

      {/* ---------- A: OPLS-DA scores ---------- */}
      <g>
        <rect x={f2.l} y={f2.t} width={f2.r - f2.l} height={f2.b - f2.t} fill="#f2f2f2" />
        <ellipse {...e2} fill="#fff" clipPath="url(#c2)" />
        <Grid x={x2} y={y2} f={f2} ticksX={oplsScoreTicksX} ticksY={oplsScoreTicksY} color="#e2e2e2" />
        <ellipse {...e2} fill="none" stroke="#c4c4c4" strokeWidth={1} />
        <ZeroLines x={x2} y={y2} f={f2} />
        <AxisFrame x={x2} y={y2} f={f2} ticksX={oplsScoreTicksX} ticksY={oplsScoreTicksY} minorX={2.5} minorY={5} />
        <text x={x2(0)} y={433} fontSize={7} fontFamily={SANS} fill={TICK_TEXT} textAnchor="middle">1.00128 * t[1]</text>
        <text x={580} y={y2(0)} fontSize={7} fontFamily={SANS} fill={TICK_TEXT} textAnchor="middle" transform={`rotate(-90 580 ${y2(0)})`}>1.42156 * to[1]</text>
        <ScoreMarks x={x2} y={y2} g2={oplsScoresGroup2} g1={oplsScoresGroup1} sides={oplsLabelSide} r={4.6} s={8.2} fs={8.3} />
      </g>

      {/* ---------- B: PLS-DA loadings ---------- */}
      <g>
        <Grid x={x3} y={y3} f={f3} ticksX={plsLoadTicksX} ticksY={plsLoadTicksY} color="#ececec" />
        <ZeroLines x={x3} y={y3} f={f3} />
        <AxisFrame x={x3} y={y3} f={f3} ticksX={plsLoadTicksX} ticksY={plsLoadTicksY} minorX={0.01} minorY={0.025} />
        <text x={x3(0)} y={1010} fontSize={7} fontFamily={SANS} fill={TICK_TEXT} textAnchor="middle">w*c[1]</text>
        <text x={10} y={y3(0)} fontSize={7} fontFamily={SANS} fill={TICK_TEXT} textAnchor="middle" transform={`rotate(-90 10 ${y3(0)})`}>w*c[2]</text>
        {plsLoadings.map(([a, b], i) => (
          <circle key={"pl" + i} cx={x3(a)} cy={y3(b)} r={4.5} fill={GREEN} stroke={GREEN_EDGE} strokeWidth={0.8} />
        ))}
        {t3.map(([cx, cy], i) => (
          <circle key={"pt" + i} cx={cx} cy={cy} r={3.7} fill={BLUE} stroke={BLUE_EDGE} strokeWidth={0.6} />
        ))}
      </g>

      {/* ---------- B: OPLS-DA loadings ---------- */}
      <g>
        <Grid x={x4} y={y4} f={f4} ticksX={oplsLoadTicksX} ticksY={oplsLoadTicksY} color="#ececec" />
        <ZeroLines x={x4} y={y4} f={f4} />
        <AxisFrame x={x4} y={y4} f={f4} ticksX={oplsLoadTicksX} ticksY={oplsLoadTicksY} minorX={0.025} minorY={0.01} />
        <text x={x4(0)} y={1004} fontSize={7} fontFamily={SANS} fill={TICK_TEXT} textAnchor="middle">0.986419 * pq[1]</text>
        <text x={568} y={y4(0)} fontSize={7} fontFamily={SANS} fill={TICK_TEXT} textAnchor="middle" transform={`rotate(-90 568 ${y4(0)})`}>0.783454 * poso[1]</text>
        <text x={693} y={1019} fontSize={7.8} fontFamily={MONO} fill="#555">R2X[1] = 0.125</text>
        <text x={821} y={1019} fontSize={7.8} fontFamily={MONO} fill="#555">R2X[XSide Comp. 1] = 0.232</text>
        <text x={982} y={1022} fontSize={5.6} fontFamily={SANS} fill="#b5b5b5">SIMCA 13.0 - 2015/12/21 20:38:4</text>
        {oplsLoadings.map(([a, b], i) => (
          <circle key={"ol" + i} cx={x4(a)} cy={y4(b)} r={4.6} fill={GREEN} stroke={GREEN_EDGE} strokeWidth={0.8} />
        ))}
        {t4.map(([cx, cy], i) => (
          <circle key={"ot" + i} cx={cx} cy={cy} r={3.9} fill={BLUE} stroke={BLUE_EDGE} strokeWidth={0.6} />
        ))}
      </g>

      {/* ---------- annotations ---------- */}
      <BoldArrow x1={92} y1={199} x2={212} y2={378} />
      <BoldArrow x1={313} y1={360} x2={426} y2={261} />
      <BoldArrow x1={659} y1={105} x2={659} y2={362} hl={18} hw={9} sw={3.2} />
      <BoldArrow x1={710} y1={393} x2={984} y2={393} hl={18} hw={9} sw={3.2} />

      <JText x={343} y={141} size={27} parts={["グループ", "1"]} />
      <JText x={55} y={183} size={26} parts={["グループ", "2"]} />
      <JText x={14} y={354} size={31} parts={["グループ内"]} />
      <JText x={14} y={394} size={31} parts={["での変動"]} />
      <JText x={370} y={351} size={32} parts={["グループ間"]} />
      <JText x={377} y={391} size={31} parts={["での変動"]} />

      <JText x={680} y={141} size={27} parts={["グループ", "2"]} />
      <JText x={972} y={141} size={27} parts={["グループ", "1"]} />
      <JText x={638} y={394} size={32} parts={["グループ内での変動"]} rotate />
      <JText x={797} y={379} size={32} parts={["グループ間での変動"]} />

      <ThinArrow x1={468} y1={755} x2={t3[0][0] + 7} y2={t3[0][1] + 2} />
      <ThinArrow x1={141} y1={937} x2={t3[1][0] + 7} y2={t3[1][1] + 7} />
      <JText x={413} y={779} size={27} parts={["グループ", "1"]} />
      <JText x={413} y={817} size={29} parts={["の目的変数"]} />
      <JText x={85} y={960} size={27} parts={["グループ", "2"]} />
      <JText x={85} y={1000} size={29} parts={["の目的変数"]} />

      <ThinArrow x1={678} y1={903} x2={t4[1][0]} y2={t4[1][1] + 8} />
      <ThinArrow x1={t4[0][0] + 2} y1={747} x2={t4[0][0] + 2} y2={t4[0][1] - 10} />
      <JText x={603} y={927} size={27} parts={["グループ", "2"]} />
      <JText x={603} y={967} size={29} parts={["の目的変数"]} />
      <JText x={954} y={698} size={27} parts={["グループ", "1", "の"]} />
      <JText x={956} y={733} size={28} parts={["目的変数"]} />

      {/* ---------- panel captions ---------- */}
      <text x={58} y={38} fontSize={38} fontFamily={SERIF}>A</text>
      <text x={50} y={612} fontSize={38} fontFamily={SERIF}>B</text>
      <text x={30} y={489} fontSize={29} fontFamily={SERIF}>PLS-DA</text>
      <text x={588} y={489} fontSize={29} fontFamily={SERIF}>OPLS-DA</text>
      <text x={22} y={1083} fontSize={29} fontFamily={SERIF}>PLS-DA</text>
      <text x={588} y={1083} fontSize={29} fontFamily={SERIF}>OPLS-DA</text>
    </svg>
  );
}
